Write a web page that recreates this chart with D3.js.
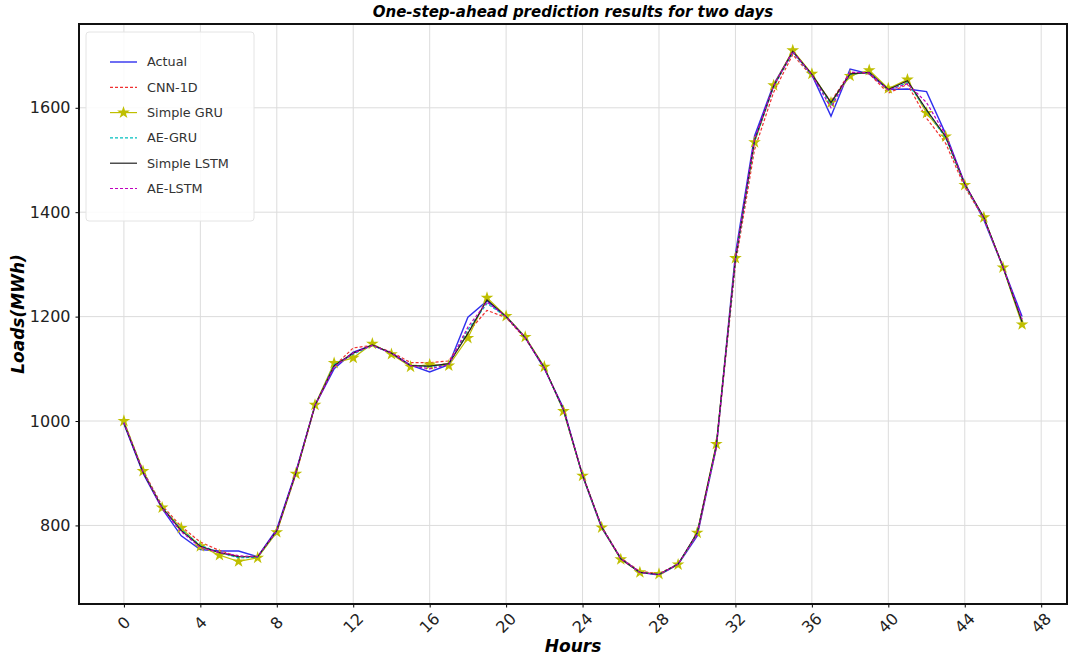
<!DOCTYPE html>
<html>
<head>
<meta charset="utf-8">
<script src="https://cdn.jsdelivr.net/npm/d3@7"></script>
<style>
  body { margin: 0; background: #fff; }
  svg { display: block; font-family: "DejaVu Sans", sans-serif; }
</style>
</head>
<body>
<svg id="chart" width="1070" height="660"></svg>
<script>
// hours 0..47
var hours = d3.range(48);

var actual = [995, 900, 832, 780, 754, 751, 751, 740, 793, 903, 1030, 1100, 1132, 1145, 1130, 1107,
  1094, 1108, 1199, 1230, 1200, 1160, 1100, 1025, 895, 795, 737, 710, 705, 725, 780, 950,
  1320, 1546, 1645, 1708, 1663, 1584, 1674, 1665, 1635, 1636, 1631, 1550, 1455, 1385, 1295, 1200];

var cnn1d = [998, 905, 838, 798, 768, 752, 740, 740, 788, 898, 1028, 1105, 1140, 1145, 1132, 1112,
  1112, 1115, 1170, 1212, 1198, 1158, 1102, 1022, 898, 798, 738, 712, 708, 726, 782, 948,
  1300, 1520, 1630, 1702, 1660, 1612, 1668, 1665, 1628, 1645, 1580, 1532, 1448, 1388, 1296, 1188];

var simpleGru = [1000, 904, 834, 795, 760, 743, 731, 738, 787, 899, 1031, 1111, 1121, 1148, 1128, 1104,
  1108, 1106, 1159, 1236, 1201, 1161, 1104, 1019, 895, 796, 735, 710, 707, 725, 786, 956,
  1312, 1534, 1643, 1710, 1665, 1610, 1661, 1672, 1637, 1654, 1590, 1545, 1452, 1390, 1294, 1185];

var aeGru = [997, 903, 835, 792, 762, 748, 738, 739, 789, 900, 1030, 1108, 1128, 1145, 1130, 1106,
  1104, 1108, 1175, 1225, 1200, 1160, 1102, 1020, 896, 797, 736, 710, 706, 726, 784, 952,
  1308, 1535, 1640, 1706, 1662, 1606, 1664, 1668, 1634, 1648, 1595, 1542, 1452, 1388, 1295, 1190];

var simpleLstm = [996, 902, 834, 790, 760, 748, 740, 740, 790, 901, 1030, 1106, 1130, 1146, 1130, 1106,
  1105, 1110, 1168, 1232, 1200, 1160, 1102, 1022, 896, 797, 736, 710, 706, 726, 786, 954,
  1310, 1538, 1642, 1708, 1664, 1610, 1665, 1668, 1635, 1652, 1596, 1545, 1454, 1390, 1295, 1190];

var aeLstm = [997, 903, 833, 788, 758, 748, 742, 740, 790, 902, 1030, 1104, 1130, 1145, 1130, 1106,
  1100, 1108, 1180, 1228, 1200, 1160, 1101, 1022, 896, 797, 736, 710, 706, 726, 784, 952,
  1312, 1540, 1642, 1708, 1663, 1600, 1668, 1667, 1634, 1646, 1610, 1548, 1454, 1388, 1295, 1195];

var xTicks = [0, 4, 8, 12, 16, 20, 24, 28, 32, 36, 40, 44, 48];
var yTicks = [800, 1000, 1200, 1400, 1600];

var series = [
  {name: "Actual", values: actual, color: "#3030ee", dash: null, width: 1.4},
  {name: "CNN-1D", values: cnn1d, color: "#f03030", dash: "3,2", width: 1.2},
  {name: "Simple GRU", values: simpleGru, color: "#bfbf00", dash: null, width: 1.2, star: true},
  {name: "AE-GRU", values: aeGru, color: "#00bfbf", dash: "3,2", width: 1.2},
  {name: "Simple LSTM", values: simpleLstm, color: "#222222", dash: null, width: 1.2},
  {name: "AE-LSTM", values: aeLstm, color: "#bf00bf", dash: "3,2", width: 1.2},
];

var svg = d3.select("#chart");
var box = {left: 79, right: 1067, top: 24, bottom: 604};

var x = d3.scaleLinear().domain([-2.35, 49.35]).range([box.left, box.right]);
var y = d3.scaleLinear().domain([649.5, 1760.5]).range([box.bottom, box.top]);

// grid
var grid = svg.append("g").attr("stroke", "#dcdcdc").attr("stroke-width", 1);
grid.selectAll(".gx").data(xTicks).enter().append("line")
    .attr("x1", d => x(d)).attr("x2", d => x(d))
    .attr("y1", box.top).attr("y2", box.bottom);
grid.selectAll(".gy").data(yTicks).enter().append("line")
    .attr("x1", box.left).attr("x2", box.right)
    .attr("y1", d => y(d)).attr("y2", d => y(d));

// lines
var line = d3.line()
    .x((d, i) => x(hours[i]))
    .y(d => y(d));

var plot = svg.append("g");
series.forEach(function(s) {
  plot.append("path")
      .attr("d", line(s.values))
      .attr("fill", "none")
      .attr("stroke", s.color)
      .attr("stroke-width", s.width)
      .attr("stroke-dasharray", s.dash);
  if (s.star) {
    plot.selectAll(".star")
      .data(s.values)
      .enter().append("path")
        .attr("class", "star")
        .attr("transform", (d, i) => "translate(" + x(hours[i]) + "," + y(d) + ")")
        .attr("d", d3.symbol(d3.symbolStar, 50))
        .attr("fill", s.color);
  }
});

// axes
svg.append("g")
    .attr("transform", "translate(0," + box.bottom + ")")
    .call(d3.axisBottom(x).tickValues(xTicks).tickSize(3.5).tickFormat(""))
    .call(g => g.select(".domain").remove());

svg.selectAll(".xlab").data(xTicks).enter().append("text")
    .attr("class", "xlab")
    .attr("transform", d => "translate(" + x(d) + ",623) rotate(-45)")
    .attr("text-anchor", "middle")
    .attr("dominant-baseline", "central")
    .attr("font-size", 16)
    .attr("fill", "#222")
    .text(d => d);

svg.append("g")
    .attr("transform", "translate(" + box.left + ",0)")
    .call(d3.axisLeft(y).tickValues(yTicks).tickSize(3.5).tickPadding(5).tickFormat(d3.format("d")))
    .call(g => g.select(".domain").remove())
    .call(g => g.selectAll("text").attr("font-size", 16).attr("fill", "#222")
                .attr("font-family", "DejaVu Sans, sans-serif"));

svg.append("rect")
    .attr("x", box.left).attr("y", box.top)
    .attr("width", box.right - box.left).attr("height", box.bottom - box.top)
    .attr("fill", "none").attr("stroke", "#111").attr("stroke-width", 2);

// titles
svg.append("text")
    .attr("x", (box.left + box.right) / 2).attr("y", 17)
    .attr("text-anchor", "middle")
    .attr("font-size", 15).attr("font-weight", "bold").attr("font-style", "italic")
    .text("One-step-ahead prediction results for two days");

svg.append("text")
    .attr("x", (box.left + box.right) / 2).attr("y", 652)
    .attr("text-anchor", "middle")
    .attr("font-size", 17).attr("font-weight", "bold").attr("font-style", "italic")
    .text("Hours");

svg.append("text")
    .attr("transform", "translate(24," + ((box.top + box.bottom) / 2) + ") rotate(-90)")
    .attr("text-anchor", "middle")
    .attr("font-size", 17).attr("font-weight", "bold").attr("font-style", "italic")
    .text("Loads(MWh)");

// legend
var legend = svg.append("g").attr("transform", "translate(86,32)");
legend.append("rect")
    .attr("width", 168).attr("height", 189).attr("rx", 3)
    .attr("fill", "#fff").attr("fill-opacity", 0.85)
    .attr("stroke", "#e4e4e4");

var item = legend.selectAll(".item").data(series).enter().append("g")
    .attr("class", "item")
    .attr("transform", (d, i) => "translate(0," + (30 + i * 25.3) + ")");
item.append("line")
    .attr("x1", 24).attr("x2", 51)
    .attr("stroke", d => d.color)
    .attr("stroke-width", d => d.width)
    .attr("stroke-dasharray", d => d.dash);
item.filter(d => d.star).append("path")
    .attr("transform", "translate(37.5,0)")
    .attr("d", d3.symbol(d3.symbolStar, 50))
    .attr("fill", d => d.color);
item.append("text")
    .attr("x", 61)
    .attr("dy", "0.35em")
    .attr("font-size", 12.8)
    .attr("fill", "#333")
    .text(d => d.name);
</script>
</body>
</html>
